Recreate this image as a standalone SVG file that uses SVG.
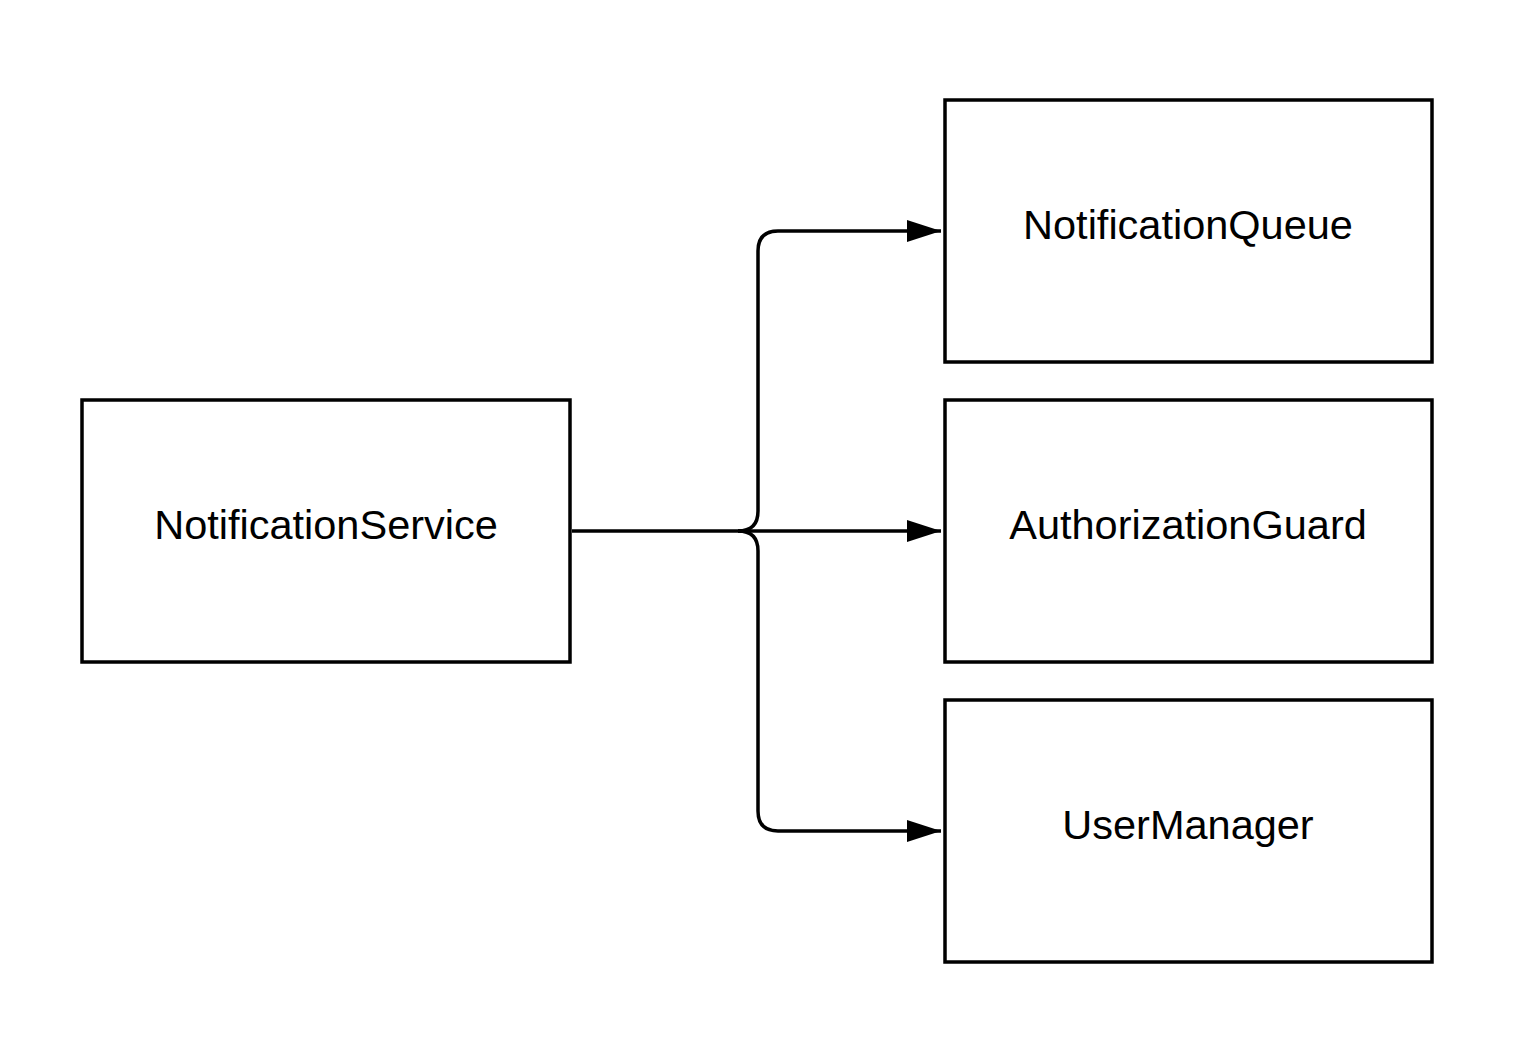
<svg xmlns="http://www.w3.org/2000/svg" width="1526" height="1046" viewBox="0 0 1526 1046">
<style>
.box{fill:#fff;stroke:#000;stroke-width:3.5}
.lbl{font-family:"Liberation Sans",Arial,sans-serif;font-size:41.5px;fill:#000;text-anchor:middle}
.edge{fill:none;stroke:#000;stroke-width:3.5}
</style>
<defs>
<marker id="arr" markerUnits="userSpaceOnUse" markerWidth="34" markerHeight="22" refX="34" refY="11" orient="auto">
<path d="M0,0 L34,11 L0,22 Z" fill="#000"/>
</marker>
</defs>
<rect width="1526" height="1046" fill="#fff"/>
<g id="connectors">
<path class="edge" d="M572,531 H941" marker-end="url(#arr)"/>
<path class="edge" d="M738,531 Q758,531 758,511 V251 Q758,231 778,231 H941" marker-end="url(#arr)"/>
<path class="edge" d="M738,531 Q758,531 758,551 V811 Q758,831 778,831 H941" marker-end="url(#arr)"/>
</g>
<g id="NotificationService">
<rect class="box" x="82" y="400" width="488" height="262"/>
<text class="lbl" x="326" y="539">NotificationService</text>
</g>
<g id="NotificationQueue">
<rect class="box" x="945" y="100" width="487" height="262"/>
<text class="lbl" x="1188" y="239">NotificationQueue</text>
</g>
<g id="AuthorizationGuard">
<rect class="box" x="945" y="400" width="487" height="262"/>
<text class="lbl" x="1188" y="539">AuthorizationGuard</text>
</g>
<g id="UserManager">
<rect class="box" x="945" y="700" width="487" height="262"/>
<text class="lbl" x="1188" y="839">UserManager</text>
</g>
</svg>
